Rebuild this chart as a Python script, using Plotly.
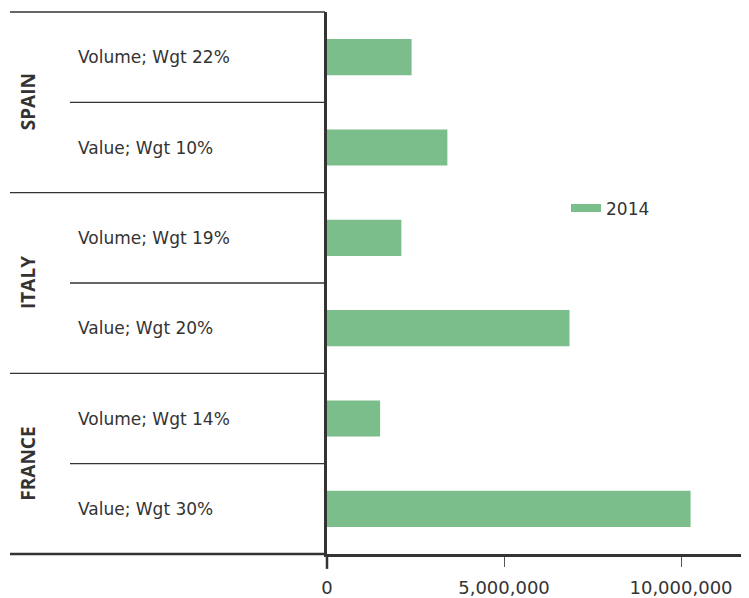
import plotly.graph_objects as go

# rows, top to bottom
countries = ["SPAIN", "SPAIN", "ITALY", "ITALY", "FRANCE", "FRANCE"]
measures = ["Volume; Wgt 22%", "Value; Wgt 10%",
            "Volume; Wgt 19%", "Value; Wgt 20%",
            "Volume; Wgt 14%", "Value; Wgt 30%"]
values_2014 = [2390000, 3400000, 2100000, 6850000, 1500000, 10270000]
groups = ["SPAIN", "ITALY", "FRANCE"]
tick_vals = [0, 5000000, 10000000]
tick_text = ["0", "5,000,000", "10,000,000"]

GREEN = "#7cbd8c"
DARK = "#333333"
FONT = "DejaVu Sans"
BOLD_FONT = "Open Sans"

rows = [c + " | " + m for c, m in zip(countries, measures)]

fig = go.Figure()
fig.add_trace(go.Bar(
    x=values_2014, y=rows, orientation="h",
    marker=dict(color=GREEN, line=dict(width=0)),
    width=0.4, showlegend=False, name="2014"
))
# legend entry drawn as a wide swatch
fig.add_trace(go.Scatter(
    x=[None], y=[None], mode="lines", name="2014",
    line=dict(color=GREEN, width=8)
))

# page has an 8px body margin; work in page pixels
OFF = 8
L, R, T, B = 327, 749, 12, 558
W, H = 749 - OFF, 598 - OFF
def px_x(p):
    return (p - L) / (R - L)
def px_y(p):
    return (B - p) / (B - T)

shapes = []
n = len(rows)
for k in range(n + 1):
    y = 1 - k / n
    if k % 2 == 0:
        x0 = px_x(10)
    else:
        x0 = px_x(70)
    x1 = 0 if k == n else px_x(325)
    shapes.append(dict(type="line", xref="paper", yref="paper",
                       x0=x0, x1=x1, y0=y, y1=y,
                       line=dict(color=DARK, width=2.5 if k == n else 1.3)))
# y axis line running past the x axis to act as the zero tick
shapes.append(dict(type="line", xref="paper", yref="paper",
                   x0=0, x1=0, y0=0, y1=px_y(B + 15),
                   line=dict(color=DARK, width=2.5)))

annotations = []
for r, m in zip(rows, measures):
    annotations.append(dict(x=px_x(76), xref="paper", y=r, yref="y",
                            text=m, showarrow=False, xanchor="left",
                            font=dict(family=FONT, size=17, color=DARK)))
for i, g in enumerate(groups):
    annotations.append(dict(x=px_x(28), xref="paper", y=2 * i + 0.5, yref="y",
                            text=g, showarrow=False, textangle=-90,
                            xanchor="center", yanchor="middle",
                            font=dict(family=BOLD_FONT, size=19, color=DARK, weight=700)))

fig.update_layout(
    width=W, height=H,
    margin=dict(l=L - OFF, r=0, t=T - OFF, b=H - (B - OFF)),
    paper_bgcolor="white", plot_bgcolor="white",
    showlegend=True,
    legend=dict(x=px_x(566), y=px_y(210), xanchor="left", yanchor="middle",
                font=dict(family=FONT, size=17, color=DARK),
                bgcolor="rgba(0,0,0,0)"),
    shapes=shapes, annotations=annotations,
    font=dict(family=FONT, color=DARK),
)
fig.update_xaxes(
    range=[0, 11920000], showgrid=False, zeroline=False,
    showline=True, linecolor=DARK, linewidth=2.5,
    tickvals=tick_vals, ticktext=tick_text,
    ticks="outside", ticklen=10, tickwidth=1.2, tickcolor="#555555",
    ticklabelstandoff=6,
    tickfont=dict(family=FONT, size=18, color=DARK),
)
fig.update_yaxes(
    type="category", categoryorder="array", categoryarray=rows,
    range=[n - 0.5, -0.5], showticklabels=False, showgrid=False,
    zeroline=False, showline=True, linecolor=DARK, linewidth=2.5, ticks="",
)

fig.write_html("out.html")
